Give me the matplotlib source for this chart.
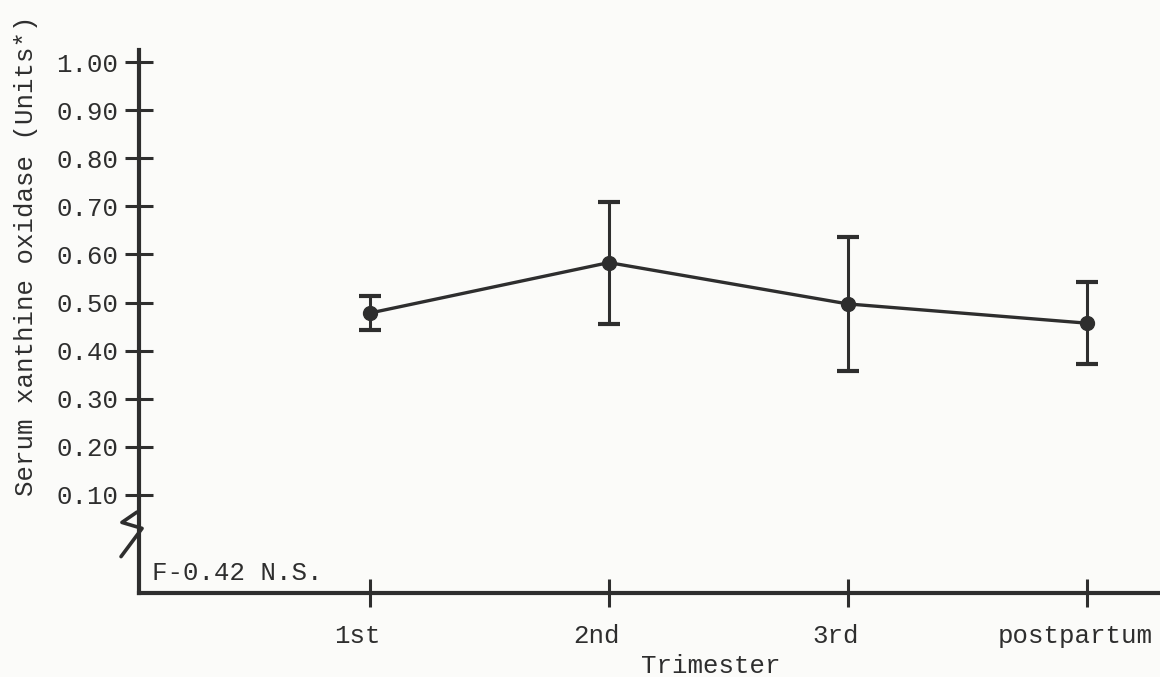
import matplotlib.pyplot as plt
from matplotlib.lines import Line2D
from matplotlib.transforms import ScaledTranslation

# serum xanthine oxidase by trimester, mean and spread
trimesters = ['1st', '2nd', '3rd', 'postpartum']
means = [0.478, 0.583, 0.497, 0.457]
spread = [0.035, 0.127, 0.14, 0.085]
ytick_vals = [0.10, 0.20, 0.30, 0.40, 0.50, 0.60, 0.70, 0.80, 0.90, 1.00]
ytick_labels = ['0.10', '0.20', '0.30', '0.40', '0.50', '0.60', '0.70', '0.80', '0.90', '1.00']

ink = '#2e2e2e'
paper = '#fbfbf9'
plt.rcParams['font.family'] = ['Liberation Mono', 'DejaVu Sans Mono']
plt.rcParams['text.color'] = ink

fig = plt.figure(figsize=(11.6, 6.77), dpi=100, facecolor=paper)
ax = fig.add_axes([139 / 1160, 1 - 593 / 677, 1021 / 1160, 543 / 677])
ax.set_facecolor(paper)

xs = list(range(len(trimesters)))
ax.errorbar(xs, means, yerr=spread, color=ink, lw=2.4, marker='o', ms=10,
            capsize=8, capthick=3, elinewidth=2.2, clip_on=False)

# 0.10 sits at 495 px, 1.00 at 62 px, axis bottom at 593 px
ax.set_xlim(-0.965, 3.305)
ax.set_ylim(-0.104, 1.025)

ax.spines['top'].set_visible(False)
ax.spines['right'].set_visible(False)
for s in ('left', 'bottom'):
    ax.spines[s].set_linewidth(3)
    ax.spines[s].set_color(ink)

ax.set_yticks(ytick_vals)
ax.set_yticklabels(ytick_labels)
ax.set_xticks(xs)
ax.set_xticklabels(trimesters)
ax.tick_params(axis='both', direction='inout', length=20, width=2.2,
               color=ink, labelcolor=ink, labelsize=18.5)
ax.tick_params(axis='y', pad=5)
ax.tick_params(axis='x', pad=12)

# typed labels sit a little left of their ticks
shift = ScaledTranslation(-12 / 100, 0, fig.dpi_scale_trans)
for lbl in ax.get_xticklabels():
    lbl.set_transform(lbl.get_transform() + shift)

ax.set_xlabel('Trimester', fontsize=18.5, color=ink)
ax.xaxis.set_label_coords(0.56, -0.112)
ax.xaxis.label.set_va('top')

fig.text(0.0224, 0.622, 'Serum xanthine oxidase (Units*)', rotation=90,
         ha='center', va='center', fontsize=18.5, color=ink)

ax.text(0.013, 0.037, 'F-0.42 N.S.', transform=ax.transAxes,
        ha='left', va='center', fontsize=18.5, color=ink)

# axis break squiggle on the y axis
brk = Line2D([-0.002, -0.0167, 0.003, -0.0176], [0.149, 0.130, 0.119, 0.067],
             transform=ax.transAxes, color=ink, lw=2.6, clip_on=False,
             solid_capstyle='round', solid_joinstyle='round')
ax.add_line(brk)

fig.savefig('out.png', dpi=100, facecolor=paper)
